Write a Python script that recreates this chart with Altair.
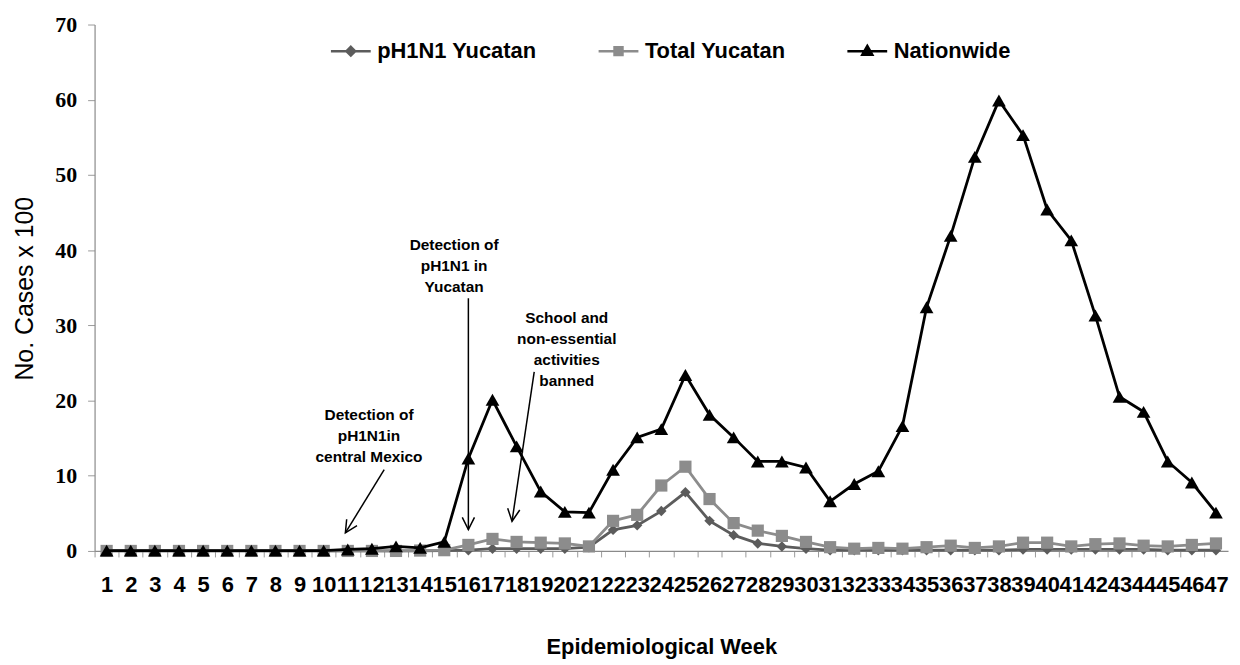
import altair as alt
import pandas as pd

weeks = list(range(1, 48))

series_names = ["pH1N1 Yucatan", "Total Yucatan", "Nationwide"]

ph1n1 = [0, 0, 0, 0, 0, 0, 0, 0, 0, 0,
         0, 0, 0, 0, 0.05, 0.1, 0.3, 0.3, 0.3, 0.3,
         0.5, 2.8, 3.4, 5.3, 7.8, 4.0, 2.1, 1.0, 0.6, 0.3,
         0.1, 0.1, 0.1, 0.1, 0.1, 0.1, 0.1, 0.1, 0.2, 0.2,
         0.2, 0.2, 0.2, 0.2, 0.1, 0.1, 0.1]

total = [0, 0, 0, 0, 0, 0, 0, 0, 0, 0,
         0, 0, 0, 0.05, 0.1, 0.8, 1.6, 1.2, 1.1, 1.0,
         0.6, 4.0, 4.8, 8.7, 11.2, 6.9, 3.7, 2.7, 2.0, 1.2,
         0.5, 0.3, 0.4, 0.3, 0.5, 0.7, 0.4, 0.6, 1.1, 1.1,
         0.6, 0.9, 1.0, 0.7, 0.6, 0.8, 1.0]

nationwide = [0.05, 0.05, 0.05, 0.05, 0.05, 0.05, 0.05, 0.05, 0.05, 0.05,
              0.2, 0.3, 0.6, 0.4, 1.2, 12.3, 20.1, 13.9, 7.9, 5.2,
              5.1, 10.8, 15.1, 16.2, 23.4, 18.1, 15.1, 11.9, 11.9, 11.1,
              6.6, 8.9, 10.6, 16.6, 32.4, 41.9, 52.4, 59.9, 55.3, 45.4,
              41.3, 31.3, 20.5, 18.5, 11.9, 9.1, 5.1]

y_ticks = [0, 10, 20, 30, 40, 50, 60, 70]

# annotations (data coordinates of the first text line)
ann_text = ["Detection of\npH1N1in\ncentral Mexico",
            "Detection of\npH1N1 in\nYucatan",
            "School and\nnon-essential\nactivities\nbanned"]
ann_x = [11.88, 15.41, 20.08]
ann_y = [18.06, 40.69, 30.99]

arrow_id = ["a1", "a1", "a2", "a2", "a3", "a3"]
arrow_x = [12.51, 10.90, 16.0, 16.0, 18.73, 17.81]
arrow_y = [10.8, 2.41, 33.6, 2.85, 23.8, 3.95]

tip_x = [10.90, 16.0, 17.81]
tip_y = [2.41, 2.85, 3.95]
tip_angle = [212, 180, 188]

# styles
series_colors = ["#5c5c5c", "#8c8c8c", "#000000"]
marker_shapes = ["diamond", "square", "triangle-up"]
marker_sizes = [110, 150, 190]
legend_paths = [
    "M-1,0H1M0,-0.22L0.22,0L0,0.22L-0.22,0Z",
    "M-1,0H1M-0.2,-0.2H0.2V0.2H-0.2Z",
    "M-1,0H1M0,-0.26L0.25,0.18H-0.25Z",
]

rows = []
for name, vals in zip(series_names, [ph1n1, total, nationwide]):
    for w, v in zip(weeks, vals):
        rows.append({"week": w, "series": name, "value": v})
df = pd.DataFrame(rows)

ann_df = pd.DataFrame({"week": ann_x, "value": ann_y, "label": ann_text})
arrow_df = pd.DataFrame({"week": arrow_x, "value": arrow_y, "aid": arrow_id})
tip_df = pd.DataFrame({"week": tip_x, "value": tip_y, "angle": tip_angle})

W = 1139
H = 529
half_step = W / 47 / 2

x_enc = alt.X(
    "week:Q",
    scale=alt.Scale(domain=[0.5, 47.5], nice=False, zero=False),
    axis=alt.Axis(
        values=weeks, format="d", grid=False,
        labelOverlap=False, labelFlush=False, labelBound=False,
        tickOffset=-half_step, labelOffset=half_step,
        tickSize=6, tickColor="#9a9a9a", domainColor="#8a8a8a", domainWidth=1.2,
        labelFont="Liberation Sans", labelFontWeight="bold", labelFontSize=22,
        labelColor="#000000", labelPadding=18,
        title="Epidemiological Week", titleFont="Liberation Sans",
        titleFontWeight="bold", titleFontSize=22, titleColor="#000000",
        titleX=W / 2, titleY=103, titleBaseline="alphabetic", titleAlign="center",
    ),
)
y_enc = alt.Y(
    "value:Q",
    scale=alt.Scale(domain=[0, 70], nice=False),
    axis=alt.Axis(
        values=y_ticks, grid=False, tickSize=7, tickColor="#9a9a9a",
        domainColor="#8a8a8a", domainWidth=1.2,
        labelFont="Liberation Serif", labelFontWeight="bold", labelFontSize=22,
        labelColor="#000000", labelPadding=11,
        title="No. Cases x 100", titleFont="Liberation Sans",
        titleFontWeight="normal", titleFontSize=25, titleColor="#000000",
        titleAngle=270, titleX=-62, titleY=265, titleBaseline="alphabetic",
        titleAlign="center",
    ),
)

layers = []
for name, col, shp, sz in zip(series_names, series_colors, marker_shapes, marker_sizes):
    base = alt.Chart(df).transform_filter(alt.datum.series == name)
    layers.append(base.mark_line(color=col, strokeWidth=2.8).encode(x=x_enc, y=y_enc))
    layers.append(base.mark_point(shape=shp, filled=True, color=col, size=sz, opacity=1)
                  .encode(x=x_enc, y=y_enc))

legend_obj = alt.Legend(
    title=None, orient="none", legendX=236, legendY=5, direction="horizontal",
    symbolSize=1600, symbolStrokeWidth=2.5, symbolOpacity=1,
    labelFont="Liberation Sans", labelFontWeight="bold", labelFontSize=22,
    labelColor="#000000", labelOffset=5, labelLimit=400,
    columnPadding=56, padding=0,
)
legend_layer = alt.Chart(df).transform_filter("false").mark_point(filled=True, opacity=1).encode(
    x=x_enc, y=y_enc,
    color=alt.Color("series:N", scale=alt.Scale(domain=series_names, range=series_colors), legend=legend_obj),
    stroke=alt.Stroke("series:N", scale=alt.Scale(domain=series_names, range=series_colors), legend=legend_obj),
    shape=alt.Shape("series:N", scale=alt.Scale(domain=series_names, range=legend_paths), legend=legend_obj),
)

arrows = alt.Chart(arrow_df).mark_line(color="#000000", strokeWidth=1.5).encode(
    x=x_enc, y=y_enc, detail="aid:N")
heads = alt.Chart(tip_df).mark_point(
    shape="M-0.5,1L0,0L0.5,1", filled=False, color="#000000", strokeWidth=1.5, size=600, opacity=1
).encode(x=x_enc, y=y_enc, angle=alt.Angle("angle:Q", scale=None))
texts = alt.Chart(ann_df).mark_text(
    lineBreak="\n", align="center", baseline="middle", font="Liberation Sans",
    fontWeight="bold", fontSize=15.5, lineHeight=21, color="#000000"
).encode(x=x_enc, y=y_enc, text="label:N")

chart = alt.layer(*layers, arrows, heads, texts, legend_layer).properties(
    width=W, height=H,
    autosize=alt.AutoSizeParams(type="none"),
    padding={"left": 87, "top": 15, "right": 4, "bottom": 110},
    background="white",
).configure_view(stroke=None)

chart.save("out.html", embed_options={"renderer": "svg", "actions": False})
